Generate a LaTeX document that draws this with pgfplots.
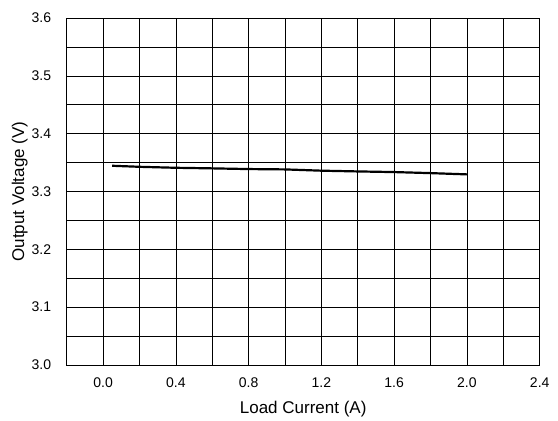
\documentclass[border=0pt]{standalone}
\usepackage{fontspec}
\setmainfont{Liberation Sans}
\usepackage{pgfplots}
\pgfplotsset{compat=1.18}

\begin{document}
\begin{tikzpicture}
    \begin{axis}[
        scale only axis,
        width=473pt, height=347pt,
        xmin=-0.2, xmax=2.4,
        ymin=3.0, ymax=3.6,
        xtick={0,0.4,...,2.4},
        minor xtick={-0.2,0.2,...,2.2},
        ytick={3.0,3.1,...,3.6},
        minor ytick={3.05,3.15,...,3.55},
        grid=both,
        major grid style={black, line width=0.6pt},
        minor grid style={black, line width=0.6pt},
        major tick length=0pt, minor tick length=0pt,
        axis line style={black, line width=0.8pt},
        /pgf/number format/assume math mode=true,
        xticklabel={\pgfmathprintnumber[fixed,fixed zerofill,precision=1]{\tick}},
        yticklabel={\pgfmathprintnumber[fixed,fixed zerofill,precision=1]{\tick}},
        tick label style={font=\fontsize{14}{16}\selectfont},
        xticklabel style={yshift=-9pt},
        yticklabel style={xshift=-12pt},
        label style={font=\fontsize{17}{20}\selectfont},
        xlabel={Load Current (A)},
        ylabel={Output Voltage (V)},
        xlabel style={at={(axis description cs:0.5,-0.127)}, anchor=center},
        ylabel style={at={(axis description cs:-0.0994,0.5)}, anchor=center},
    ]
    \addplot[black, line width=2.2pt] coordinates {
        (0.05,3.3445) (0.2,3.3427) (0.4,3.3410) (0.6,3.3400) (0.8,3.3388)
        (1.0,3.3382) (1.2,3.3360) (1.4,3.3347) (1.6,3.3336) (1.8,3.3318)
        (2.0,3.3296)
    };
    \end{axis}
    \useasboundingbox (-66.7pt,-54pt) rectangle (491.3pt,365pt);
\end{tikzpicture}
\end{document}
